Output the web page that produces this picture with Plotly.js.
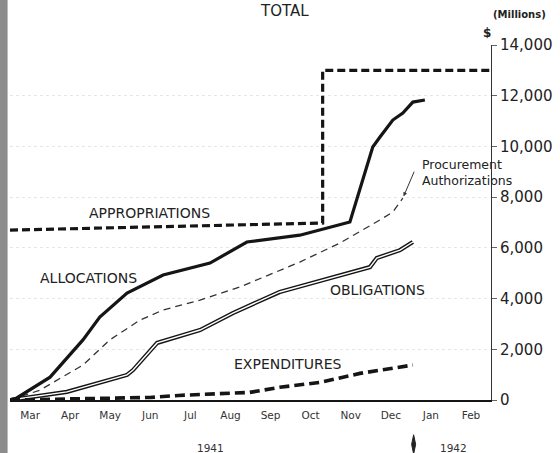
<!DOCTYPE html>
<html>
<head>
<meta charset="utf-8">
<script src="https://cdn.plot.ly/plotly-3.0.1.min.js"></script>
<style>
  html, body { margin: 0; padding: 0; background: #fff; }
  #chart { width: 560px; height: 453px; }
</style>
</head>
<body>
<div id="chart"></div>
<script>
// Months since 1 Mar 1941 (0 = Mar 1 1941, 10 = Jan 1 1942); values in $ millions
const monthLabels = ["Mar","Apr","May","Jun","Jul","Aug","Sep","Oct","Nov","Dec","Jan","Feb"];
const monthTickPos = [0.5,1.5,2.5,3.5,4.5,5.5,6.5,7.5,8.5,9.5,10.5,11.5];

const appropX = [0, 7.8, 7.8, 12];
const appropY = [6700, 6980, 13000, 13000];

const allocX = [0, 0.17, 1.0, 1.82, 2.24, 2.92, 3.82, 4.99, 5.91, 6.98, 7.23, 8.48, 9.05, 9.23, 9.55, 9.80, 10.05, 10.35];
const allocY = [0, 80, 900, 2370, 3270, 4220, 4930, 5400, 6230, 6430, 6500, 7020, 9980, 10370, 11040, 11320, 11750, 11830];

const procX = [0, 0.75, 1.82, 2.49, 3.24, 3.82, 4.74, 5.74, 7.23, 8.23, 9.23, 9.55, 9.80];
const procY = [0, 390, 1380, 2370, 3150, 3550, 3940, 4460, 5440, 6190, 7100, 7410, 7960];

const obligX = [0, 1.42, 2.92, 3.07, 3.67, 4.74, 5.56, 6.73, 8.98, 9.15, 9.73, 10.05];
const obligY = [0, 320, 990, 1180, 2250, 2760, 3430, 4260, 5240, 5600, 5910, 6230];

const expendX = [0, 1.0, 2.24, 3.49, 4.2, 5.98, 6.73, 7.75, 8.73, 10.05];
const expendY = [0, 20, 60, 100, 180, 300, 500, 700, 1050, 1380];

const yTicks = [0, 2000, 4000, 6000, 8000, 10000, 12000, 14000];

const ink = "#151515";
const traces = [
  { x: appropX, y: appropY, mode: "lines", name: "Appropriations",
    line: { color: ink, width: 3.2, dash: "8px,4px" }, hoverinfo: "skip" },
  { x: procX, y: procY, mode: "lines", name: "Procurement Authorizations",
    line: { color: "#333", width: 1.3, dash: "7px,5px" }, hoverinfo: "skip" },
  { x: obligX, y: obligY, mode: "lines", name: "Obligations",
    line: { color: ink, width: 4.2 }, hoverinfo: "skip" },
  { x: obligX, y: obligY, mode: "lines", name: "Obligations (inner)",
    line: { color: "#ffffff", width: 1.4 }, hoverinfo: "skip" },
  { x: allocX, y: allocY, mode: "lines", name: "Allocations",
    line: { color: ink, width: 3.2 }, hoverinfo: "skip" },
  { x: expendX, y: expendY, mode: "lines", name: "Expenditures",
    line: { color: ink, width: 3.6, dash: "10px,5px" }, hoverinfo: "skip" }
];

const lblFont = { family: "DejaVu Sans", size: 14, color: "#222" };
const last = a => a[a.length - 1];

const layout = {
  width: 560, height: 453,
  margin: { l: 10, r: 69, t: 45, b: 53, pad: 0 },
  paper_bgcolor: "#ffffff", plot_bgcolor: "#ffffff",
  showlegend: false,
  font: { family: "DejaVu Sans", color: "#222" },
  xaxis: {
    range: [0, 12], tickvals: monthTickPos, ticktext: monthLabels,
    showline: true, linecolor: ink, linewidth: 2, ticks: "",
    showgrid: false, zeroline: false, fixedrange: true,
    tickfont: { family: "DejaVu Sans", size: 10.5, color: "#333" },
    ticklabelstandoff: 4
  },
  yaxis: {
    side: "right", range: [0, 14000], tickvals: yTicks, tickformat: ",d",
    showline: true, linecolor: "#333", linewidth: 1,
    ticks: "outside", ticklen: 5, tickcolor: "#666",
    showgrid: true, gridcolor: "#e6e6e6", gridwidth: 1, griddash: "dot",
    zeroline: false, fixedrange: true,
    tickfont: { family: "DejaVu Sans", size: 15, color: "#222" }
  },
  shapes: [
    { type: "rect", xref: "paper", yref: "paper", x0: -0.0215, x1: -0.005, y0: -0.2, y1: 1.3,
      fillcolor: "#8c8c8c", line: { width: 0 }, layer: "below" },
    { type: "path", xref: "x", yref: "paper",
      path: "M 10.07,-0.098 L 10.12,-0.125 L 10.07,-0.152 L 10.02,-0.125 Z",
      fillcolor: "#222", line: { color: "#222", width: 1 } }
  ],
  annotations: [
    { text: "TOTAL", xref: "paper", yref: "paper", x: 0.57, y: 1.1255, showarrow: false,
      xanchor: "center", yanchor: "top", font: { family: "DejaVu Sans", size: 15, color: "#222" } },
    { text: "(Millions)", xref: "paper", yref: "paper", x: 1.06, y: 1.085, showarrow: false,
      xanchor: "center", yanchor: "middle", font: { family: "DejaVu Sans", size: 10, color: "#222", weight: "bold" } },
    { text: "$", xref: "paper", yref: "paper", x: 0.992, y: 1.034, showarrow: false,
      xanchor: "center", yanchor: "middle", font: { family: "DejaVu Sans", size: 12, color: "#222", weight: "bold" } },
    { text: "APPROPRIATIONS", x: 3.47, y: 7374, showarrow: false, font: lblFont },
    { text: "ALLOCATIONS", x: 1.97, y: 4810, showarrow: false, font: lblFont },
    { text: "OBLIGATIONS", x: 9.18, y: 4340, showarrow: false, font: lblFont },
    { text: "EXPENDITURES", x: 6.93, y: 1420, showarrow: false, font: lblFont },
    { text: "Procurement<br>Authorizations", x: 10.22, y: 8990, showarrow: false,
      xanchor: "left", yanchor: "middle", align: "left",
      font: { family: "DejaVu Sans", size: 12.5, color: "#222" } },
    { text: "", x: last(procX), y: last(procY), showarrow: true, arrowhead: 2, arrowsize: 0.8,
      arrowwidth: 1, arrowcolor: "#333", ax: 12, ay: -28, standoff: 2 },
    { text: "1941", xref: "x", yref: "paper", x: 5.01, y: -0.135, showarrow: false,
      yanchor: "middle", font: { family: "DejaVu Sans", size: 10.5, color: "#333" } },
    { text: "1942", xref: "x", yref: "paper", x: 11.07, y: -0.135, showarrow: false,
      yanchor: "middle", font: { family: "DejaVu Sans", size: 10.5, color: "#333" } }
  ]
};

Plotly.newPlot("chart", traces, layout, { staticPlot: true, displayModeBar: false });
</script>
</body>
</html>
